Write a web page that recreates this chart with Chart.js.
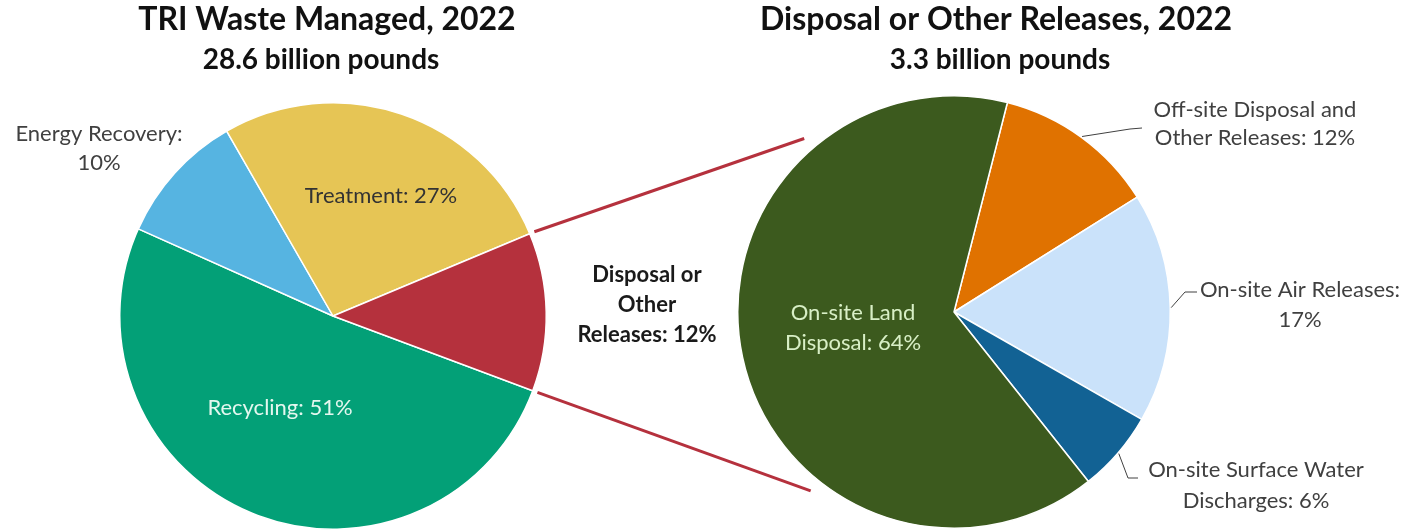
<!DOCTYPE html>
<html>
<head>
<meta charset="utf-8">
<script src="https://cdn.jsdelivr.net/npm/chart.js@4.4.1/dist/chart.umd.min.js"></script>
<style>
  html, body { margin: 0; padding: 0; background: #fff; }
  #wrap { position: relative; width: 1416px; height: 530px; overflow: hidden; }
  #wrap canvas { position: absolute; left: 0; top: 0; }
</style>
</head>
<body>
<div id="wrap">
  <canvas id="managed" width="1416" height="530"></canvas>
  <canvas id="releases" width="1416" height="530"></canvas>
</div>
<script>
// TRI waste managed in 2022, percent of 28.6 billion pounds
const managedLabels = ['Recycling', 'Energy Recovery', 'Treatment', 'Disposal or Other Releases']
const managedValues = [51, 10, 27, 12]
const managedColors = ['#03a077', '#56b4e1', '#e6c555', '#b5313d']

// disposal or other releases in 2022, percent of 3.3 billion pounds
const releaseLabels = ['Off-site Disposal and Other Releases', 'On-site Air Releases', 'On-site Surface Water Discharges', 'On-site Land Disposal']
const releaseValues = [12, 17, 6, 64]
const releaseColors = ['#e07200', '#cae2fa', '#126294', '#3c5a1e']

const FONT = 'Lato, "Open Sans", sans-serif'
const DISPOSAL = 3 // index of the slice that gets broken out on the right

// draws "Label: NN%" for each slice, words split into lines by count
const sliceLabels = {
  id: 'sliceLabels',
  afterDatasetsDraw(chart, args, opts) {
    const ctx = chart.ctx
    const meta = chart.getDatasetMeta(0)
    const labels = chart.data.labels
    const values = chart.data.datasets[0].data
    ctx.save()
    opts.items.forEach((item, i) => {
      const arc = meta.data[i]
      const cx = arc.x, cy = arc.y
      if (item.leader) {
        const mid = (arc.startAngle + arc.endAngle) / 2
        const r = arc.outerRadius + 1
        ctx.beginPath()
        ctx.moveTo(cx + r * Math.cos(mid), cy + r * Math.sin(mid))
        item.leader.forEach(p => ctx.lineTo(cx + p[0], cy + p[1]))
        ctx.strokeStyle = '#404040'
        ctx.lineWidth = 1
        ctx.stroke()
      }
      const words = `${labels[i]}: ${values[i]}%`.split(' ')
      let k = 0
      const lines = item.words.map(n => {
        const l = words.slice(k, k + n).join(' ')
        k += n
        return l
      })
      ctx.font = item.font
      ctx.fillStyle = item.color
      ctx.textAlign = 'center'
      ctx.textBaseline = 'alphabetic'
      lines.forEach((l, j) => ctx.fillText(l, cx + item.dx, cy + item.dy + j * item.lineHeight))
    })
    ctx.restore()
  }
}

const headings = {
  id: 'headings',
  afterDraw(chart, args, opts) {
    const ctx = chart.ctx
    ctx.save()
    ctx.fillStyle = '#111'
    ctx.textAlign = 'center'
    ctx.textBaseline = 'alphabetic'
    opts.lines.forEach(h => {
      ctx.font = h.font
      ctx.fillText(h.text, h.x, h.y)
    })
    ctx.restore()
  }
}

// red lines from the disposal slice to the pie that breaks it down
const connectors = {
  id: 'connectors',
  afterDatasetsDraw(chart, args, opts) {
    const src = opts.source.getDatasetMeta(0).data[DISPOSAL]
    const dst = chart.getDatasetMeta(0).data[0]
    const ctx = chart.ctx
    const ends = [
      [src.startAngle, opts.angles[0]],
      [src.endAngle, opts.angles[1]]
    ]
    ctx.save()
    ctx.strokeStyle = managedColors[DISPOSAL]
    ctx.lineWidth = 3
    ends.forEach(([a, b]) => {
      const rb = b * Math.PI / 180
      ctx.beginPath()
      ctx.moveTo(src.x + (src.outerRadius + opts.gap[0]) * Math.cos(a), src.y + (src.outerRadius + opts.gap[0]) * Math.sin(a))
      ctx.lineTo(dst.x + (dst.outerRadius + opts.gap[1]) * Math.cos(rb), dst.y + (dst.outerRadius + opts.gap[1]) * Math.sin(rb))
      ctx.stroke()
    })
    ctx.restore()
  }
}

const regular = '22px ' + FONT
const bold = 'bold 22px ' + FONT
const titleFont = 'bold 32px ' + FONT
const subFont = 'bold 28px ' + FONT

const managedChart = new Chart('managed', {
  type: 'pie',
  data: {
    labels: managedLabels,
    datasets: [{
      data: managedValues,
      backgroundColor: managedColors,
      borderColor: '#fff',
      borderWidth: 1.5
    }]
  },
  options: {
    responsive: false,
    animation: false,
    rotation: 110.5,
    events: [],
    layout: { padding: { left: 119, top: 102, right: 869, bottom: 0 } },
    plugins: {
      legend: { display: false },
      tooltip: { enabled: false },
      sliceLabels: {
        items: [
          { words: [2], dx: -53, dy: 99, font: regular, color: '#e4f7ef', lineHeight: 29 },
          { words: [2, 1], dx: -234, dy: -175, font: regular, color: '#404040', lineHeight: 29 },
          { words: [2], dx: 48, dy: -113, font: regular, color: '#333', lineHeight: 29 },
          { words: [2, 1, 2], dx: 314, dy: -34, font: bold, color: '#1a1a1a', lineHeight: 30 }
        ]
      },
      headings: {
        lines: [
          { text: 'TRI Waste Managed, 2022', x: 327, y: 30, font: titleFont },
          { text: '28.6 billion pounds', x: 321, y: 69, font: subFont }
        ]
      }
    }
  },
  plugins: [sliceLabels, headings]
})

new Chart('releases', {
  type: 'pie',
  data: {
    labels: releaseLabels,
    datasets: [{
      data: releaseValues,
      backgroundColor: releaseColors,
      borderColor: '#fff',
      borderWidth: 1.5
    }]
  },
  options: {
    responsive: false,
    animation: false,
    rotation: 14.3,
    events: [],
    layout: { padding: { left: 737, top: 95, right: 245, bottom: 1 } },
    plugins: {
      legend: { display: false },
      tooltip: { enabled: false },
      sliceLabels: {
        items: [
          { words: [3, 3], dx: 301, dy: -195, font: regular, color: '#404040', lineHeight: 28, leader: [[176, -183], [188, -184]] },
          { words: [3, 1], dx: 346, dy: -15, font: regular, color: '#404040', lineHeight: 30, leader: [[231, -20], [243, -20]] },
          { words: [3, 2], dx: 302, dy: 165, font: regular, color: '#404040', lineHeight: 31, leader: [[174, 166], [184, 166]] },
          { words: [2, 2], dx: -101, dy: 8, font: regular, color: '#d8efc6', lineHeight: 30 }
        ]
      },
      headings: {
        lines: [
          { text: 'Disposal or Other Releases, 2022', x: 996, y: 30, font: titleFont },
          { text: '3.3 billion pounds', x: 1000, y: 69, font: subFont }
        ]
      },
      connectors: { source: managedChart, angles: [-130.8, 128.7], gap: [5, 13] }
    }
  },
  plugins: [sliceLabels, headings, connectors]
})
</script>
</body>
</html>
